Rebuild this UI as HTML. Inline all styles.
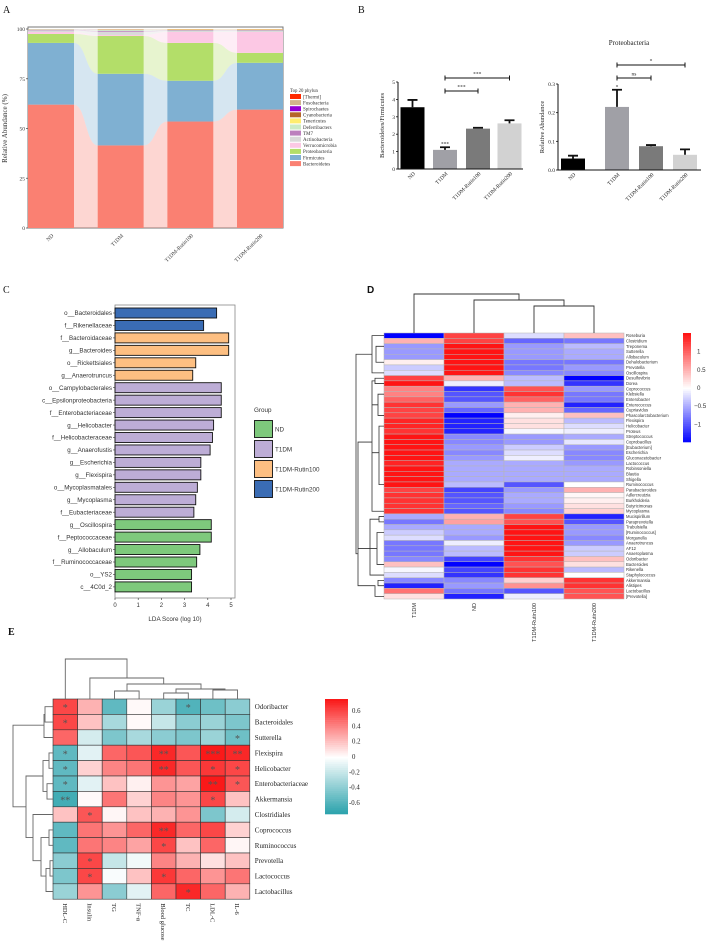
<!DOCTYPE html>
<html><head><meta charset="utf-8"><style>
html,body{margin:0;padding:0;background:#fff;}
svg{display:block;}
.s{font-family:"Liberation Serif",serif;}
.a{font-family:"Liberation Sans",sans-serif;}
</style></head><body>
<svg id="fig" width="710" height="952" viewBox="0 0 710 952" xmlns="http://www.w3.org/2000/svg">
<g class="s" font-size="10" fill="#111">
<text x="3" y="13">A</text>
<text x="358" y="13">B</text>
<text x="3" y="293">C</text>
<text x="367" y="293" font-weight="bold" class="a">D</text>
<text x="8" y="635" font-weight="bold">E</text>
</g>
<g id="A"></g>
<g id="B1"></g>
<g id="B2"></g>
<g id="C"></g>
<g id="D"></g>
<g id="E"></g>
</svg>
<script>
// ---------- Panel A data ----------
const aGroups = ["ND","T1DM","T1DM-Rutin100","T1DM-Rutin200"];
const aPhyla = ["Bacteroidetes","Firmicutes","Proteobacteria","Verrucomicrobia","Actinobacteria","TM7","Deferribacters","Tenericutes","Cyanobacteria","Spirochaetes","Fusobacteria","[Thermi]"];
const aND = [62,31,4.5,1.0,0.8,0.3,0.2,0.1,0.05,0.02,0.02,0.01];
const aT1DM = [41.5,36,19,0.5,1.6,0.5,0.5,0.2,0.1,0.05,0.03,0.02];
const aR100 = [53.5,20.5,19,5.5,0.5,0.3,0.2,0.3,0.1,0.05,0.03,0.02];
const aR200 = [59.5,23.5,5,10.5,0.5,0.3,0.2,0.3,0.1,0.05,0.03,0.02];
const aLegend = ["[Thermi]","Fusobacteria","Spirochaetes","Cyanobacteria","Tenericutes","Deferribacters","TM7","Actinobacteria","Verrucomicrobia","Proteobacteria","Firmicutes","Bacteroidetes"];
const aTicks = [0,25,50,75,100];
// ---------- Panel B data ----------
const bGroups = ["ND","T1DM","T1DM-Rutin100","T1DM-Rutin200"];
const b1Values = [3.55,1.1,2.32,2.62];
const b1Errors = [0.42,0.15,0.05,0.18];
const b1Ticks = [0,1,2,3,4,5];
const b2Values = [0.04,0.22,0.083,0.053];
const b2Errors = [0.01,0.06,0.004,0.019];
const b2Ticks = [0.0,0.1,0.2,0.3];
// ---------- Panel C data ----------
const cTaxa = ["o__Bacteroidales","f__Rikenellaceae","f__Bacteroidaceae","g__Bacteroides","o__Rickettsiales","g__Anaerotruncus","o__Campylobacterales","c__Epsilonproteobacteria","f__Enterobacteriaceae","g__Helicobacter","f__Helicobacteraceae","g__Anaerofustis","g__Escherichia","g__Flexispira","o__Mycoplasmatales","g__Mycoplasma","f__Eubacteriaceae","g__Oscillospira","f__Peptococcaceae","g__Allobaculum","f__Ruminococcaceae","o__YS2","c__4C0d_2"];
const cScores = [4.38,3.82,4.9,4.9,3.48,3.35,4.58,4.58,4.58,4.25,4.2,4.1,3.7,3.7,3.55,3.48,3.4,4.15,4.15,3.66,3.52,3.3,3.3];
const cGroupIdx = [3,3,2,2,2,2,1,1,1,1,1,1,1,1,1,1,1,0,0,0,0,0,0];
const cGroupNames = ["ND","T1DM","T1DM-Rutin100","T1DM-Rutin200"];
const cTicks = [0,1,2,3,4,5];
// ---------- Panel D data ----------
const dCols = ["T1DM","ND","T1DM-Rutin100","T1DM-Rutin200"];
const dRows = ["Roseburia","Clostridium","Treponema","Sutterella","Allobaculum","Dehalobacterium","Prevotella","Oscillospira","Desulfovibrio","Dorea","Coprococcus","Klebsiella","Enterobacter","Enterococcus","Cupriavidus","Phascolarctobacterium","Flexispira","Helicobacter","Proteus","Streptococcus","Coprobacillus","[Eubacterium]","Escherichia","Gluconacetobacter","Lactococcus","Robinsoniella","Blautia","Shigella","Ruminococcus","Parabacteroides","Adlercreutzia","Burkholderia","Butyricimonas","Mycoplasma","Mucispirillum","Paraprevotella","Trabulsiella","[Ruminococcus]","Morganella","Anaerotruncus","AF12","Anaeroplasma","Odoribacter","Bacteroides","Rikenella","Staphylococcus","Akkermansia","Alistipes","Lactobacillus","[Prevotella]"];
const dT1DM = [-1.5,0.5,-0.6,-0.6,-0.6,0.1,-0.3,-0.2,1.2,1.5,0.8,0.8,1.0,1.3,1.2,1.2,1.4,1.4,1.3,1.5,1.5,1.5,1.5,1.5,1.4,1.5,1.5,1.5,1.5,1.2,1.3,1.3,1.3,1.3,-0.5,-0.8,-0.5,-0.3,-0.2,-0.8,-0.8,-0.8,-0.7,0.4,-0.05,-0.2,-0.7,-1.3,0.9,0.2];
const dND = [1.2,1.2,1.5,1.5,1.5,1.5,1.5,1.5,0.5,-0.1,-1.2,-1.0,-1.0,-0.6,-0.9,-1.5,-1.3,-1.3,-1.3,-0.7,-0.7,-0.6,-0.7,-0.6,-0.5,-0.5,-0.5,-0.5,-0.4,-1.1,-1.0,-1.0,-0.9,-1.0,0.5,0.6,-0.5,-0.5,-0.6,-0.1,-0.4,-0.4,-1.1,-1.5,-1.1,-1.2,-0.7,-0.6,-0.8,-1.3];
const dR100 = [-0.2,-0.9,-0.6,-0.6,-0.6,-0.8,-0.8,-0.7,-0.4,-0.4,1.1,1.3,1.0,0.5,0.5,0.1,0.2,0.2,-0.05,-0.6,-0.6,-0.3,-0.2,-0.1,-0.5,-0.5,-0.5,-0.5,-1.0,-0.6,-0.5,-0.5,-0.6,-0.7,1.2,1.1,1.5,1.5,1.5,1.5,1.5,1.5,1.3,1.1,1.3,1.3,0.3,0.7,-1.0,-0.1];
const dR200 = [0.4,-0.8,-0.4,-0.5,-0.5,-0.8,-0.6,-0.7,-1.5,-1.2,-0.6,-0.8,-0.8,-1.3,-0.9,0.4,-0.4,-0.2,-0.1,-0.5,-0.15,-0.6,-0.7,-0.7,-0.6,-0.5,-0.5,-0.5,0.0,0.5,0.05,0.1,0.2,0.3,-1.3,-1.0,-0.6,-0.6,-0.7,-0.6,-0.3,-0.3,0.4,0.2,-0.4,0.0,1.3,1.3,1.1,1.1];
const dScaleTicks = [1,0.5,0,-0.5,-1];
// ---------- Panel E data ----------
const eCols = ["HDL-C","Insulin","TG","TNF-α","Blood glucose","TC","LDL-C","IL-6"];
const eRows = ["Odoribacter","Bacteroidales","Sutterella","Flexispira","Helicobacter","Enterobacteriaceae","Akkermansia","Clostridiales","Coprococcus","Ruminococcus","Prevotella","Lactococcus","Lactobacillus"];
const eOdoribacter = [0.6,0.25,-0.55,0.02,-0.35,-0.6,-0.5,-0.4];
const eBacteroidales = [0.6,0.2,-0.3,0.02,-0.2,-0.4,-0.35,-0.45];
const eSutterella = [0.5,-0.15,-0.45,-0.3,-0.4,-0.45,-0.35,-0.5];
const eFlexispira = [-0.55,-0.1,0.5,0.55,0.7,0.55,0.8,0.7];
const eHelicobacter = [-0.55,0.15,0.4,0.45,0.7,0.55,0.65,0.6];
const eEnterobacteriaceae = [-0.55,-0.1,0.2,0.05,0.35,0.3,0.75,0.55];
const eAkkermansia = [-0.65,0.02,0.45,0.15,0.4,0.35,0.6,0.2];
const eClostridiales = [0.2,0.55,0.03,0.2,0.25,0.35,-0.45,-0.15];
const eCoprococcus = [-0.55,0.45,0.35,0.5,0.7,0.5,0.6,0.15];
const eRuminococcus = [-0.55,0.45,0.4,0.3,0.6,0.2,0.5,0.03];
const ePrevotella = [-0.4,0.6,-0.2,-0.05,0.4,0.25,0.1,0.2];
const eLactococcus = [-0.45,0.6,-0.02,0.2,0.65,0.5,0.35,0.45];
const eLactobacillus = [-0.35,0.35,-0.4,-0.1,0.5,0.7,0.5,0.25];
const eStars = [["*","","","","","*","",""],["*","","","","","","",""],["","","","","","","","*"],["*","","","","**","","***","**"],["*","","","","**","","*","*"],["*","","","","","","**","*"],["**","","","","","","*",""],["","*","","","","","",""],["","","","","**","","",""],["","","","","*","","",""],["","*","","","","","",""],["","*","","","*","","",""],["","","","","","*","",""]];
const eScaleTicks = [0.6,0.4,0.2,0,-0.2,-0.4,-0.6];

const NS="http://www.w3.org/2000/svg";
function mk(tag, attrs, parent){const e=document.createElementNS(NS,tag);for(const k in attrs)e.setAttribute(k,attrs[k]);parent.appendChild(e);return e;}
function txt(s, attrs, parent){const e=mk("text",attrs,parent);e.textContent=s;return e;}

// ===== Panel A =====
(function(){
const g=document.getElementById("A");
const colors={"Bacteroidetes":"#fa8072","Firmicutes":"#7fb0d2","Proteobacteria":"#b3de69","Verrucomicrobia":"#fcc8e4","Actinobacteria":"#d9d9d9","TM7":"#bc80bd","Deferribacters":"#ccebc5","Tenericutes":"#ffed6f","Cyanobacteria":"#b5652a","Spirochaetes":"#9400d3","Fusobacteria":"#d2b48c","[Thermi]":"#ff2a00"};
const data=[aND,aT1DM,aR100,aR200];
const L=28,R=283,T=29,B=228;
const y=v=>B-v*(B-T)/100;
const bw=46, xs=i=>L+i*(R-L-bw)/3;
const bg=mk("rect",{x:L,y:T-2,width:R-L,height:B-T+2,fill:"#fff",stroke:"#777","stroke-width":1},g);


const cums=data.map(d=>{const s=d.reduce((a,b)=>a+b,0);let c=0;return d.map(v=>{const lo=c;c+=v*100/s;return [lo,c];});});
// flows
for(let i=0;i<3;i++){
 aPhyla.forEach((p,k)=>{
  const x1=xs(i)+bw,x2=xs(i+1),xm=(x1+x2)/2;
  const a=cums[i][k],b=cums[i+1][k];
  const d=`M${x1},${y(a[1])} C${xm},${y(a[1])} ${xm},${y(b[1])} ${x2},${y(b[1])} L${x2},${y(b[0])} C${xm},${y(b[0])} ${xm},${y(a[0])} ${x1},${y(a[0])}Z`;
  const f=mk("path",{d:d,fill:colors[p],"fill-opacity":0.32},g);
  
  
 });
}
data.forEach((d,i)=>{
 aPhyla.forEach((p,k)=>{
  const c=cums[i][k];
  const r=mk("rect",{x:xs(i),y:y(c[1]),width:bw,height:Math.max(0,y(c[0])-y(c[1])),fill:colors[p]},g);
  
  
 });
 const t=txt(aGroups[i],{x:0,y:0,"font-size":5.5,"text-anchor":"end",class:"s",fill:"#333",transform:`translate(${xs(i)+bw/2+3},${B+8}) rotate(-45)`},g);
 
 
});
aTicks.forEach(v=>{
 const l=mk("line",{x1:L-2,x2:L,y1:y(v),y2:y(v),stroke:"#555","stroke-width":0.8},g);
 
 
 const t=txt(String(v),{x:L-3,y:y(v)+2,"font-size":5.5,"text-anchor":"end",class:"s",fill:"#333"},g);
 
 
});
const yt=txt("Relative Abundance (%)",{x:0,y:0,"font-size":7,"text-anchor":"middle",class:"s",fill:"#333",transform:`translate(7,${(T+B)/2}) rotate(-90)`},g);


const lt=txt("Top 20 phylun",{x:290,y:92,"font-size":4.8,class:"s",fill:"#333"},g);


aLegend.forEach((p,k)=>{
 const r=mk("rect",{x:290,y:94+k*6.1,width:11,height:5,fill:colors[p]},g);
 
 
 const t=txt(p,{x:303,y:98.3+k*6.1,"font-size":5,class:"s",fill:"#333"},g);
 
 
});
})();

// ===== Panel B =====
function barChart(id, vals, errs, ticks, L, R, B, T, vmax, cxs, bw, ytitle, tickFmt){
 const g=document.getElementById(id);
 const y=v=>B-v*(B-T)/vmax;
 const cols=["#000","#a0a0a6","#7a7a7a","#d2d2d2"];
 vals.forEach((v,i)=>{
  const r=mk("rect",{x:cxs[i]-bw/2,y:y(v),width:bw,height:B-y(v),fill:cols[i]},g);
  
  
  const e=mk("path",{d:`M${cxs[i]},${y(v)} V${y(v+errs[i])} M${cxs[i]-5},${y(v+errs[i])} H${cxs[i]+5}`,stroke:cols[i]==="#d2d2d2"?"#111":"#111","stroke-width":1.8,fill:"none"},g);
  
  
  const t=txt(bGroups[i],{x:0,y:0,"font-size":5.5,"text-anchor":"end",class:"s",fill:"#222",transform:`translate(${cxs[i]+3},${B+5}) rotate(-45)`},g);
  
  
 });
 const ax=mk("path",{d:`M${L},${T} V${B} H${R}`,stroke:"#111","stroke-width":1,fill:"none"},g);
 
 
 ticks.forEach(v=>{
  const l=mk("line",{x1:L-2,x2:L,y1:y(v),y2:y(v),stroke:"#111","stroke-width":0.8},g);
  
  
  const t=txt(tickFmt(v),{x:L-3,y:y(v)+2,"font-size":5.5,"text-anchor":"end",class:"s",fill:"#222"},g);
  
  
 });
 const yt=txt(ytitle,{x:0,y:0,"font-size":6.5,"text-anchor":"middle",class:"s",fill:"#222",transform:`translate(${L-14},${(T+B)/2}) rotate(-90)`},g);
 
 
 return {g,y};
}
function bracket(g,x1,x2,yy,label){
 const p=mk("path",{d:`M${x1},${yy-2.5} V${yy+2.5} M${x1},${yy} H${x2} M${x2},${yy-2.5} V${yy+2.5}`,stroke:"#111","stroke-width":1,fill:"none"},g);
 
 
 const t=txt(label,{x:(x1+x2)/2,y:yy-2.5,"font-size":5.5,"text-anchor":"middle",class:"s",fill:"#222"},g);
 
 
}
(function(){
 const cx=[412.5,445,478,509.5];
 const r=barChart("B1",b1Values,b1Errors,b1Ticks,398,523,169,82,5,cx,24,"Bacteroidetes/Firmicutes",v=>String(v));
 bracket(r.g,cx[1],cx[2],91,"***");
 bracket(r.g,cx[1],cx[3],78,"***");
 const s=txt("***",{x:cx[1],y:r.y(b1Values[1]+b1Errors[1])-2,"font-size":5.5,"text-anchor":"middle",class:"s",fill:"#222"},r.g);
 
 
})();
(function(){
 const cx=[573,617,651,685];
 const r=barChart("B2",b2Values,b2Errors,b2Ticks,558,701,170,84,0.3,cx,24,"Relative Abundance",v=>v.toFixed(1));
 bracket(r.g,cx[1],cx[2],78,"ns");
 bracket(r.g,cx[1],cx[3],65,"*");
 const s=txt("*",{x:cx[1],y:r.y(b2Values[1]+b2Errors[1])-1,"font-size":5.5,"text-anchor":"middle",class:"s",fill:"#222"},r.g);
 
 
 const t=txt("Proteobacteria",{x:629,y:45,"font-size":7,"text-anchor":"middle",class:"s",fill:"#222"},r.g);
 
 
})();

// ===== Panel C =====
(function(){
 const g=document.getElementById("C");
 const gc=["#7ec97c","#bdadd6","#fdbf82","#3a6cb4"];
 const L=115,R=235,T=305,B=598;
 const x=v=>L+v*23.2;
 const yc=i=>313+i*12.45;
 const box=mk("rect",{x:L,y:T,width:R-L,height:B-T,fill:"#fff",stroke:"#888","stroke-width":0.8},g);
 
 
 cScores.forEach((v,i)=>{
  const r=mk("rect",{x:L,y:yc(i)-5,width:x(v)-L,height:10,fill:gc[cGroupIdx[i]],stroke:"#111","stroke-width":0.9},g);
  
  
  const tk=mk("line",{x1:L-2,x2:L,y1:yc(i),y2:yc(i),stroke:"#333","stroke-width":0.6},g);
  
  
  const t=txt(cTaxa[i],{x:L-3,y:yc(i)+2.2,"font-size":6.2,"text-anchor":"end",class:"a",fill:"#333"},g);
  
  
 });
 cTicks.forEach(v=>{
  const l=mk("line",{x1:x(v),x2:x(v),y1:B,y2:B+2,stroke:"#333","stroke-width":0.6},g);
  
  
  const t=txt(String(v),{x:x(v),y:B+9,"font-size":6,"text-anchor":"middle",class:"a",fill:"#333"},g);
  
  
 });
 const xt=txt("LDA Score (log 10)",{x:(L+R)/2,y:621,"font-size":6.3,"text-anchor":"middle",class:"a",fill:"#333"},g);
 
 
 const lt=txt("Group",{x:254,y:412,"font-size":6.3,class:"a",fill:"#333"},g);
 
 
 cGroupNames.forEach((n,k)=>{
  const r=mk("rect",{x:254.5,y:420.5+k*20,width:18,height:17,fill:gc[k],stroke:"#111","stroke-width":0.9},g);
  
  
  const t=txt(n,{x:275,y:431.5+k*20,"font-size":6.3,class:"a",fill:"#333"},g);
  
  
 });
})();

// ===== Panel D =====
(function(){
 const g=document.getElementById("D");
 const cols=[dT1DM,dND,dR100,dR200];
 const X0=384,CW=60,Y0=333,RH=5.32;
 const colr=v=>{let t=Math.max(-1,Math.min(1,v/1.5));if(t>=0){const c=Math.round(255*(1-t)+20*t);return `rgb(255,${c},${c})`;}t=-t;const c=Math.round(255*(1-t));return `rgb(${c},${c},255)`;};
 cols.forEach((arr,j)=>{
  arr.forEach((v,i)=>{
   const r=mk("rect",{x:X0+j*CW,y:Y0+i*RH,width:CW,height:RH,fill:colr(v),stroke:"#b5b5b5","stroke-width":0.5},g);
   
   
  });
  const t=txt(dCols[j],{x:0,y:0,"font-size":5.5,"text-anchor":"end",class:"a",fill:"#333",transform:`translate(${X0+j*CW+CW/2+2},${Y0+50*RH+4}) rotate(-90)`},g);
  
  
 });
 dRows.forEach((n,i)=>{
  const t=txt(n,{x:X0+4*CW+2,y:Y0+i*RH+RH-1.2,"font-size":4.2,class:"a",fill:"#333"},g);
  
  
 });
 const cx=c=>X0+c*CW+CW/2;
 const tree=mk("path",{d:`M${cx(0)},${Y0} V294 H519 V300 M${cx(1)},${Y0} V300 H564 V306 M${cx(2)},${Y0} V306 H${cx(3)} V${Y0}`,stroke:"#333","stroke-width":0.9,fill:"none"},g);
 
 
 const ry=i=>Y0+i*RH+RH/2;
 const ld=`M${X0},${ry(0)} H372 V${ry(4)} H${X0} M372,${ry(2)} H357 V${ry(38)} M376,${ry(3)} H${X0} M376,${ry(1)} V${ry(6)} H${X0}
 M${X0},${ry(8)} H375 V${ry(9)} H${X0} M375,${ry(8.5)} H372 V${ry(20)} M${X0},${ry(11)} H378 V${ry(14)} H${X0} M378,${ry(12)} H374 V${ry(18)} H${X0} M374,${ry(16)} H${X0}
 M372,${ry(14)} H368 V${ry(30)} H380 V${ry(33)} H${X0} M380,${ry(28)} V${ry(24)} H${X0} M382,${ry(22)} H${X0} M382,${ry(19)} V${ry(27)} H${X0}
 M368,${ry(21)} H360 V${ry(54)} M357,${ry(30)} H360
 M${X0},${ry(34)} H379 V${ry(35)} H${X0} M379,${ry(34.5)} H370 V${ry(44)} M${X0},${ry(38)} H376 V${ry(45)} H${X0} M376,${ry(41)} H${X0} M380,${ry(40)} V${ry(43)} H${X0}
 M370,${ry(40)} H362 V${ry(47)} H370 V${ry(49)} H${X0} M370,${ry(47)} H${X0} M377,${ry(46)} H${X0} M377,${ry(47.5)} V${ry(46)}`;
 const lt=mk("path",{d:`M${X0},${ry(0)} H372 V${ry(7)} H${X0} M${X0},${ry(2)} H376 V${ry(5)} H${X0} M372,${ry(3.5)} H356 V${ry(41)} H358 M${X0},${ry(8)} H375 V${ry(9)} H${X0} M375,${ry(8.5)} H372 V${ry(33)} H${X0} M${X0},${ry(11)} H378 V${ry(15)} H${X0} M378,${ry(13)} H372 M${X0},${ry(17)} H379 V${ry(28)} H${X0} M379,${ry(22)} H372 M372,${ry(20)} H358 V${ry(41)} M${X0},${ry(34)} H379 V${ry(35)} H${X0} M379,${ry(34.5)} H370 V${ry(45)} H${X0} M${X0},${ry(37)} H377 V${ry(43)} H${X0} M377,${ry(40)} H370 M370,${ry(40)} H358 M358,${ry(41)} V${ry(47)} H375 V${ry(49)} H${X0} M${X0},${ry(46)} H378 V${ry(47)} H${X0}`,stroke:"#333","stroke-width":0.8,fill:"none"},g);
 
 
 // color bar
 const CBT=333,CBB=442,mid=(CBT+CBB)/2,unit=(CBB-CBT)/2/1.5;
 for(let k=0;k<60;k++){
  const v=1.5-k*3/60;
  const r=mk("rect",{x:683,y:CBT+k*(CBB-CBT)/60,width:8,height:(CBB-CBT)/60+0.3,fill:colr(v)},g);
  
  
 }
 dScaleTicks.forEach(v=>{
  const t=txt(v===0?"0":(v<0?"−"+Math.abs(v):String(v)),{x:v<0?694:697,y:mid-v*unit+2.5,"font-size":6.2,class:"a",fill:"#333"},g);
  
  
 });
})();

// ===== Panel E =====
(function(){
 const g=document.getElementById("E");
 const rows=[eOdoribacter,eBacteroidales,eSutterella,eFlexispira,eHelicobacter,eEnterobacteriaceae,eAkkermansia,eClostridiales,eCoprococcus,eRuminococcus,ePrevotella,eLactococcus,eLactobacillus];
 const X0=53,CW=24.6,Y0=699,RH=15.4;
 const colr=v=>{let t=Math.max(-1,Math.min(1,v/0.75));if(t>=0){return `rgb(${Math.round(255-5*t)},${Math.round(255-230*t)},${Math.round(255-230*t)})`;}t=-t;return `rgb(${Math.round(255-217*t)},${Math.round(255-95*t)},${Math.round(255-85*t)})`;};
 rows.forEach((arr,i)=>{
  arr.forEach((v,j)=>{
   const r=mk("rect",{x:X0+j*CW,y:Y0+i*RH,width:CW,height:RH,fill:colr(v),stroke:"#333","stroke-width":0.6},g);
   
   
   if(eStars[i][j]){
    const s=txt(eStars[i][j],{x:X0+j*CW+CW/2,y:Y0+i*RH+RH/2+4.5,"font-size":10,"text-anchor":"middle",class:"s",fill:"#555"},g);
    
    
   }
  });
  const t=txt(eRows[i],{x:X0+8*CW+5,y:Y0+i*RH+RH/2+2.5,"font-size":7,class:"s",fill:"#222"},g);
  
  
 });
 eCols.forEach((n,j)=>{
  const t=txt(n,{x:0,y:0,"font-size":6.5,class:"s",fill:"#222",transform:`translate(${X0+j*CW+CW/2-2.5},${Y0+13*RH+4}) rotate(90)`},g);
  
  
 });
 const cx=c=>X0+c*CW+CW/2, ry=i=>Y0+i*RH+RH/2;
 const top=mk("path",{d:`M${cx(0)},${Y0} V659 H127 V678 M${cx(1)},${Y0} V678 H${cx(4)} V684 M${cx(2)},${Y0} V691 H${cx(3)} V${Y0} M127,691 V684 H201 V689 M${cx(4)},${Y0} V693 H${cx(5)} V${Y0} M176,693 V689 H225 V690 M${cx(6)},${Y0} V690 H${cx(7)} V${Y0}`,stroke:"#666","stroke-width":0.9,fill:"none"},g);
 
 
 const left=mk("path",{d:`M${X0},${ry(0)} H45 V${ry(1)} H${X0} M45,${ry(0.5)} H44 V${ry(2)} H${X0} M44,${ry(1.2)} H13 V${ry(6.5)} H26 M${X0},${ry(3)} H49 V${ry(4)} H${X0} M49,${ry(3.5)} H43 V${ry(5.5)} H47 V${ry(5)} H${X0} M47,${ry(5)} V${ry(6)} H${X0} M43,${ry(4.5)} H26 V${ry(8.5)} H33 M${X0},${ry(7)} H33 V${ry(10)} H41 M${X0},${ry(8)} H49 V${ry(9)} H${X0} M49,${ry(8.5)} H41 V${ry(11)} H46 M${X0},${ry(10)} H50 V${ry(11)} H${X0} M50,${ry(10.5)} H46 V${ry(12)} H${X0}`,stroke:"#666","stroke-width":0.9,fill:"none"},g);
 
 
 const CBT=699,CBB=814,vr=0.75;
 for(let k=0;k<60;k++){
  const v=vr-k*2*vr/60;
  const r=mk("rect",{x:325,y:CBT+k*(CBB-CBT)/60,width:23,height:(CBB-CBT)/60+0.3,fill:colr(v)},g);
  
  
 }
 eScaleTicks.forEach(v=>{
  const yy=CBT+(vr-v)/(2*vr)*(CBB-CBT);
  const t=txt(String(v),{x:v<0?349:352,y:yy+2.5,"font-size":6.8,class:"s",fill:"#222"},g);
  
  
 });
})();
</script>
</body></html>
